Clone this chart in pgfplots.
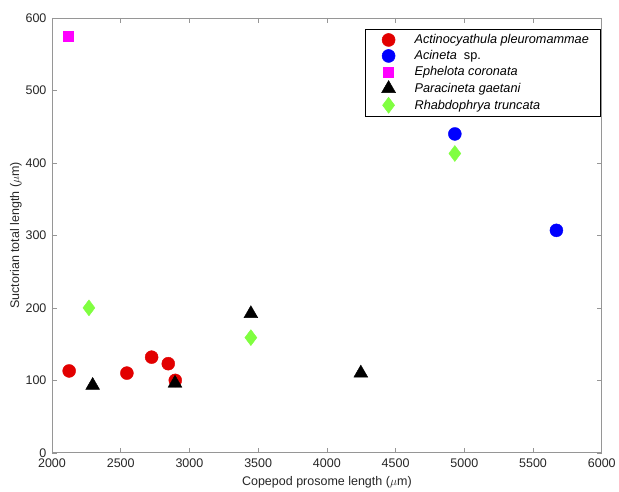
\documentclass[border=0pt]{standalone}
\usepackage{fontspec}
\setmainfont{Liberation Sans}
\usepackage{pgfplots}
\pgfplotsset{compat=1.18}
\definecolor{mred}{RGB}{226,0,0}
\definecolor{mblue}{RGB}{0,0,255}
\definecolor{mmag}{RGB}{255,0,255}
\definecolor{mgreen}{RGB}{128,255,64}
\definecolor{axgray}{RGB}{150,150,150}
\begin{document}
\begin{tikzpicture}
\begin{axis}[
  scale only axis, width=550pt, height=435pt,
  xmin=2000, xmax=6000, ymin=0, ymax=600,
  xtick={2000,2500,...,6000}, ytick={0,100,...,600},
  tick align=inside,
  axis line style={axgray, line width=0.8pt},
  major tick style={axgray, line width=0.6pt},
  major tick length=5pt,
  tick label style={font=\fontsize{12.5}{14}\selectfont, text=black!85},
  xticklabel style={yshift=-2pt},
  yticklabel style={xshift=-2pt},
  /pgf/number format/assume math mode=true,
  /pgf/number format/set thousands separator={},
  label style={font=\fontsize{12.5}{14}\selectfont, text=black!85},
  xlabel={Copepod prosome length ($\mu$m)},
  ylabel={Suctorian total length ($\mu$m)},
  xlabel style={yshift=-2pt},
  ylabel style={yshift=-3pt},
  legend style={at={(0.997,0.975)}, anchor=north east, draw=black, line width=0.5pt,
    font=\fontsize{12.7}{14}\selectfont, row sep=1.3pt, inner xsep=9pt, inner ysep=3.5pt},
  legend cell align=left,
  legend image code/.code={\path[draw=none,fill=none] (0pt,-5pt) rectangle (38pt,5pt); \draw[mark repeat=2,mark phase=2,#1] plot coordinates {(0pt,0pt)(14pt,0pt)(38pt,0pt)};},
]
\addplot[only marks, mark=*, mark size=6.5pt, mred, draw=none, fill=mred] coordinates {
  (2125,113) (2545,110) (2725,132) (2846,123) (2897,100)};
\addlegendentry{\textit{Actinocyathula pleuromammae}\hspace{4pt}}
\addplot[only marks, mark=*, mark size=6.5pt, mblue, draw=none, fill=mblue] coordinates {
  (4931,440) (5670,307)};
\addlegendentry{\textit{Acineta}\ \ sp.}
\addplot[only marks, mark=square*, mark size=5pt, mmag, draw=none, fill=mmag] coordinates {
  (2120,575)};
\addlegendentry{\textit{Ephelota coronata}}
\addplot[only marks, mark=triangle*, mark size=8pt, black, fill=black] coordinates {
  (2296,93) (2895,96) (3447,192) (4247,110)};
\addlegendentry{\textit{Paracineta gaetani}}
\addplot[only marks, mark=diamond*, mark size=8pt, mgreen, draw=none, fill=mgreen] coordinates {
  (2269,200) (3447,159) (4931,413)};
\addlegendentry{\textit{Rhabdophrya truncata}}
\end{axis}
\path[use as bounding box] (-52pt,-37pt) rectangle (567pt,453pt);
\end{tikzpicture}
\end{document}
